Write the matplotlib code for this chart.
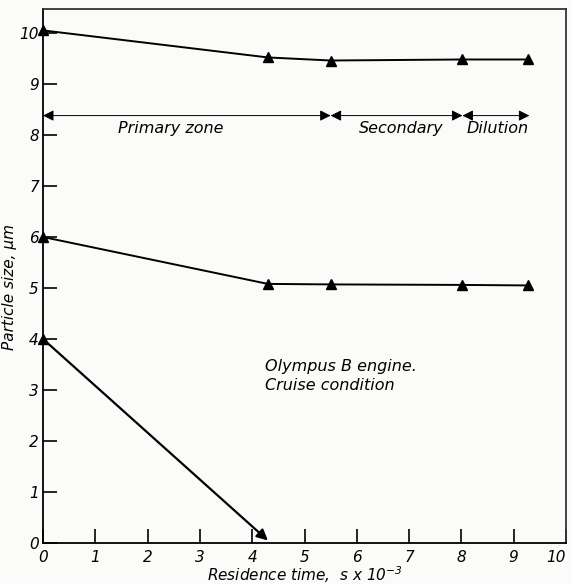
import matplotlib
matplotlib.use("Agg")
import matplotlib.pyplot as plt

plt.rcParams['font.family'] = ['DejaVu Sans']
plt.rcParams['font.style'] = 'italic'
plt.rcParams['mathtext.default'] = 'it'

# residence time (s x 1e-3) and particle size (um)
upper_x = [0, 4.3, 5.5, 8.02, 9.27]
upper_y = [10.05, 9.52, 9.46, 9.48, 9.48]

middle_x = [0, 4.3, 5.5, 8.02, 9.27]
middle_y = [6.0, 5.08, 5.07, 5.06, 5.05]

lower_x = [0, 4.3]
lower_y = [4.0, 0.05]

# zone spans along the arrow row
zone_names = ['Primary zone', 'Secondary', 'Dilution']
zone_edges = [0, 5.5, 8.02, 9.3]
zone_label_x = [2.45, 6.85, 8.7]
zone_arrow_y = 8.38
zone_label_y = 8.12

note_lines = ['Olympus B engine.', 'Cruise condition']

fig = plt.figure(figsize=(5.72, 5.84), dpi=100, facecolor='#fbfbf9')
ax = fig.add_axes([0.0752, 0.0702, 0.9143, 0.9144])
ax.set_facecolor('#fbfbf9')

ax.plot(upper_x, upper_y, color='black', lw=1.4, marker='^', ms=7, clip_on=False)
ax.plot(middle_x, middle_y, color='black', lw=1.4, marker='^', ms=7, clip_on=False)
ax.plot(lower_x[:1], lower_y[:1], color='black', marker='^', ms=7, ls='none', clip_on=False)
ax.annotate('', xy=(lower_x[1], lower_y[1]), xytext=(lower_x[0], lower_y[0]),
            arrowprops=dict(arrowstyle='-|>', color='black', lw=1.6,
                            mutation_scale=16, shrinkA=0, shrinkB=0))

for i, name in enumerate(zone_names):
    ax.annotate('', xy=(zone_edges[i + 1], zone_arrow_y), xytext=(zone_edges[i], zone_arrow_y),
                arrowprops=dict(arrowstyle='<|-|>', color='black', lw=0.7,
                                mutation_scale=16, shrinkA=0, shrinkB=0))
    ax.text(zone_label_x[i], zone_label_y, name, ha='center', va='center', fontsize=11.5)

ax.text(4.25, 3.47, note_lines[0], ha='left', va='center', fontsize=11.5)
ax.text(4.25, 3.08, note_lines[1], ha='left', va='center', fontsize=11.5)

ax.set_xlim(0, 10)
ax.set_ylim(0, 10.47)
ax.set_xticks(range(0, 11))
ax.set_yticks(range(0, 11))
ax.tick_params(direction='in', length=10, width=1.2, labelsize=11, pad=5)
ax.tick_params(axis='y', pad=3)
ax.get_xticklabels()[-1].set_ha('right')
for s in ax.spines.values():
    s.set_linewidth(1.3)
ax.spines['top'].set_color('#333333')
ax.spines['right'].set_color('#333333')

ax.set_xlabel(r'Residence time,  s x 10$^{-3}$', fontsize=11)
ax.xaxis.set_label_coords(0.5, -0.04)
ax.set_ylabel('Particle size, μm', fontsize=11)
ax.yaxis.set_label_coords(-0.05, 0.48)

fig.savefig('out.png', dpi=100, facecolor=fig.get_facecolor())
